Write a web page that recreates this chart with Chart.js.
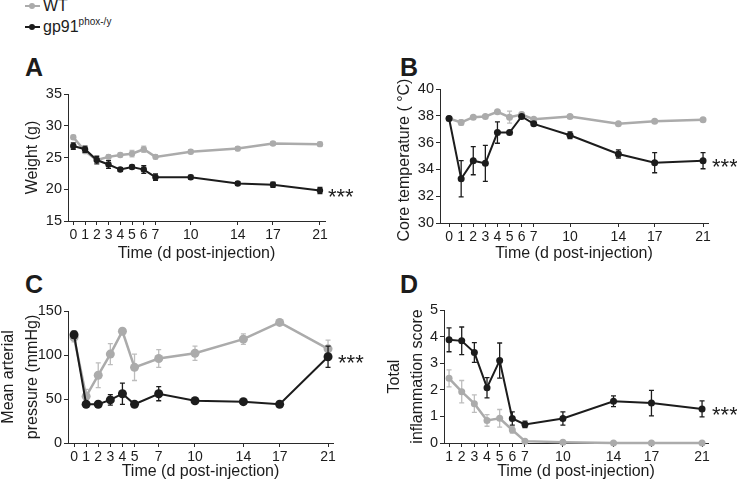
<!DOCTYPE html>
<html>
<head>
<meta charset="utf-8">
<script src="https://cdn.jsdelivr.net/npm/chart.js@4"></script>
<style>
  body { margin: 0; background: #fff; width: 737px; height: 485px; position: relative; overflow: hidden;
         font-family: "Liberation Sans", Arial, sans-serif; color: #1c1c1c; }
  canvas { position: absolute; }
  .letter { position: absolute; font-weight: bold; font-size: 25px; line-height: 25px; }
  .leg { position: absolute; left: 25px; font-size: 16px; line-height: 16px; white-space: nowrap; }
  .leg .mk { position: absolute; left: 0; top: 7px; width: 15px; height: 2px; }
  .leg .dot { position: absolute; left: 4px; top: -2px; width: 6px; height: 6px; border-radius: 50%; }
  .leg .txt { position: absolute; left: 18px; top: 0; }
  .leg sup { font-size: 10px; vertical-align: 7px; line-height: 0; }
</style>
</head>
<body>
<div class="leg" style="top:-2px"><span class="mk" style="background:#ababab"><span class="dot" style="background:#ababab"></span></span><span class="txt">WT</span></div>
<div class="leg" style="top:19px"><span class="mk" style="background:#1c1c1c"><span class="dot" style="background:#1c1c1c"></span></span><span class="txt">gp91<sup>phox-/y</sup></span></div>

<div class="letter" style="left:25px;top:55px">A</div>
<div class="letter" style="left:400px;top:55px">B</div>
<div class="letter" style="left:25px;top:272px">C</div>
<div class="letter" style="left:400px;top:272px">D</div>

<canvas id="chartA" width="370" height="185" style="left:0;top:80px"></canvas>
<canvas id="chartB" width="367" height="205" style="left:370px;top:60px"></canvas>
<canvas id="chartC" width="370" height="190" style="left:0;top:295px"></canvas>
<canvas id="chartD" width="367" height="190" style="left:370px;top:295px"></canvas>

<script>
/* ─── Data ───────────────────────────────────────────── */
// A: body weight (g)
const daysA = [0, 1, 2, 3, 4, 5, 6, 7, 10, 14, 17, 21];
const wtWeight    = [28.2, 26.0, 24.6, 25.1, 25.4, 25.6, 26.3, 25.1, 25.9, 26.4, 27.2, 27.1];
const wtWeightErr = [0.3, 0.3, 0.3, 0.3, 0.3, 0.5, 0.5, 0.3, 0.3, 0.3, 0.3, 0.3];
const koWeight    = [26.8, 26.3, 24.6, 23.9, 23.1, 23.5, 23.1, 21.9, 21.9, 20.9, 20.7, 19.8];
const koWeightErr = [0.5, 0.5, 0.6, 0.6, 0.3, 0.3, 0.6, 0.5, 0.3, 0.3, 0.4, 0.5];

// B: core temperature (°C)
const daysB = [0, 1, 2, 3, 4, 5, 6, 7, 10, 14, 17, 21];
const wtTemp    = [37.8, 37.5, 37.9, 37.95, 38.3, 37.9, 38.1, 37.75, 37.95, 37.4, 37.6, 37.7];
const wtTempErr = [0.1, 0.2, 0.1, 0.1, 0.1, 0.45, 0.15, 0.1, 0.1, 0.1, 0.1, 0.1];
const koTemp    = [37.8, 33.3, 34.65, 34.45, 36.75, 36.75, 37.95, 37.4, 36.55, 35.15, 34.5, 34.65];
const koTempErr = [0.1, 1.35, 1.05, 1.35, 0.8, 0.1, 0.1, 0.1, 0.25, 0.3, 0.75, 0.6];

// C: mean arterial pressure (mmHg)
const daysC = [0, 1, 2, 3, 4, 5, 7, 10, 14, 17, 21];
const wtMap    = [120, 53, 77, 101, 127, 86, 96, 102, 118, 137, 107];
const wtMapErr = [5, 8, 14, 12, 2, 15, 10, 8, 6, 3, 10];
const koMap    = [123, 44, 44, 49, 56, 44, 56, 48, 47, 44, 98];
const koMapErr = [4, 2, 2, 6, 12, 2, 8, 3, 2, 2, 12];

// D: total inflammation score
const daysD = [1, 2, 3, 4, 5, 6, 7, 10, 14, 17, 21];
const wtScore    = [2.43, 1.93, 1.48, 0.85, 0.93, 0.49, 0.07, 0.03, 0, 0, 0];
const wtScoreErr = [0.32, 0.42, 0.33, 0.22, 0.33, 0.12, 0.03, 0.02, 0, 0, 0];
const koScore    = [3.88, 3.84, 3.4, 2.08, 3.1, 0.92, 0.7, 0.92, 1.57, 1.5, 1.28];
const koScoreErr = [0.45, 0.52, 0.37, 0.38, 0.66, 0.25, 0.12, 0.25, 0.2, 0.48, 0.3];

const SIG = '***';

/* ─── Style ──────────────────────────────────────────── */
const GREY = '#ababab';
const GREY_ERR = '#bdbdbd';
const BLACK = '#1c1c1c';
const AXIS = '#2a2a2a';
const FONT = '"Liberation Sans", Arial, sans-serif';

Chart.defaults.font.family = FONT;
Chart.defaults.color = '#1c1c1c';

// vertical SEM bars, drawn under each dataset's line
const errorBars = {
  id: 'errorBars',
  beforeDatasetDraw(chart, args) {
    const ds = chart.data.datasets[args.index];
    if (!ds.errors) return;
    const ctx = chart.ctx;
    const y = chart.scales.y;
    ctx.save();
    ctx.strokeStyle = ds.errorColor;
    ctx.lineWidth = 1.3;
    args.meta.data.forEach((pt, i) => {
      const e = ds.errors[i];
      if (!e) return;
      const v = ds.data[i].y;
      const top = y.getPixelForValue(v + e);
      const bot = y.getPixelForValue(v - e);
      ctx.beginPath();
      ctx.moveTo(pt.x, top); ctx.lineTo(pt.x, bot);
      ctx.moveTo(pt.x - 2.5, top); ctx.lineTo(pt.x + 2.5, top);
      ctx.moveTo(pt.x - 2.5, bot); ctx.lineTo(pt.x + 2.5, bot);
      ctx.stroke();
    });
    ctx.restore();
  },
};

// significance stars next to the last knockout point
const stars = {
  id: 'stars',
  afterDatasetsDraw(chart, args, opts) {
    const meta = chart.getDatasetMeta(0);
    const last = meta.data[meta.data.length - 1];
    const ctx = chart.ctx;
    ctx.save();
    ctx.fillStyle = BLACK;
    ctx.font = '22px ' + FONT;
    ctx.textBaseline = 'alphabetic';
    ctx.fillText(SIG, last.x + opts.dx, last.y + 13);
    ctx.restore();
  },
};

// y title longer than the plot height (the built-in one gets squeezed to fit)
const longYTitle = {
  id: 'longYTitle',
  afterDraw(chart, args, opts) {
    if (!opts.text) return;
    const ctx = chart.ctx;
    const area = chart.chartArea;
    ctx.save();
    ctx.translate(opts.x, (area.top + area.bottom) / 2 + opts.dy);
    ctx.rotate(-Math.PI / 2);
    ctx.fillStyle = '#1c1c1c';
    ctx.font = '16px ' + FONT;
    ctx.textAlign = 'center';
    ctx.textBaseline = 'middle';
    ctx.fillText(opts.text, 0, 0);
    ctx.restore();
  },
};

const pairs = (xs, ys) => xs.map((x, i) => ({ x, y: ys[i] }));

function panel(id, p) {
  return new Chart(document.getElementById(id), {
    type: 'line',
    data: {
      datasets: [
        {
          label: 'gp91phox-/y',
          data: pairs(p.days, p.ko),
          errors: p.koErr,
          errorColor: BLACK,
          borderColor: BLACK,
          backgroundColor: BLACK,
          borderWidth: 2,
          pointRadius: p.r,
          pointBorderWidth: 0,
          order: 0,
          clip: false,
        },
        {
          label: 'WT',
          data: pairs(p.days, p.wt),
          errors: p.wtErr,
          errorColor: GREY_ERR,
          borderColor: GREY,
          backgroundColor: GREY,
          borderWidth: 2.5,
          pointRadius: p.r,
          pointBorderWidth: 0,
          order: 1,
          clip: false,
        },
      ],
    },
    options: {
      responsive: false,
      animation: false,
      events: [],
      layout: { padding: { left: 0, top: p.padTop, right: p.padRight, bottom: 0 } },
      plugins: {
        legend: { display: false },
        tooltip: { enabled: false },
        stars: { dx: p.starDx },
        longYTitle: p.longTitle || {},
      },
      scales: {
        x: {
          type: 'linear',
          min: p.xMin, max: p.xMax,
          afterBuildTicks: s => { s.ticks = p.days.map(v => ({ value: v })); },
          afterFit: s => { s.height = p.xH; },
          ticks: { autoSkip: false, maxRotation: 0, color: '#1c1c1c', font: { size: 14 }, padding: 2, callback: v => String(v) },
          grid: { drawOnChartArea: false, tickLength: 4, color: AXIS },
          border: { color: AXIS, width: 1 },
          title: { display: true, text: 'Time (d post-injection)', color: '#1c1c1c', font: { size: 16 }, padding: { top: 0, bottom: p.xTitlePad } },
        },
        y: {
          min: p.yMin, max: p.yMax,
          afterFit: s => { s.width = p.yW; },
          ticks: { stepSize: p.step, color: '#1c1c1c', font: { size: 14.5 }, padding: 2 },
          grid: { drawOnChartArea: false, tickLength: 4, color: AXIS },
          border: { color: AXIS, width: 1 },
          title: { display: !!p.yTitle, text: p.yTitle, color: '#1c1c1c', font: { size: 16, lineHeight: p.yLH }, padding: { top: p.yTitlePad, bottom: 0 } },
        },
      },
    },
    plugins: [errorBars, stars, longYTitle],
  });
}

/* ─── Panels ─────────────────────────────────────────── */
panel('chartA', {
  days: daysA, wt: wtWeight, wtErr: wtWeightErr, ko: koWeight, koErr: koWeightErr,
  xMin: -0.45, xMax: 21.43, yMin: 15, yMax: 35, step: 5, r: 3.2,
  padTop: 14, padRight: 45, xH: 44, yW: 68,
  yTitle: 'Weight (g)', yLH: 1.2, yTitlePad: 23.4, xTitlePad: 1.9, starDx: 8,
});

panel('chartB', {
  days: daysB, wt: wtTemp, wtErr: wtTempErr, ko: koTemp, koErr: koTempErr,
  xMin: -0.75, xMax: 21.41, yMin: 30, yMax: 40, step: 2, r: 3.5,
  padTop: 29, padRight: 29, xH: 42, yW: 70,
  yTitle: null, longTitle: { text: 'Core temperature ( °C)', x: 35, dy: 4 },
  xTitlePad: 1.9, starDx: 9,
});

panel('chartC', {
  days: daysC, wt: wtMap, wtErr: wtMapErr, ko: koMap, koErr: koMapErr,
  xMin: -0.5, xMax: 21.41, yMin: 0, yMax: 150, step: 50, r: 4.5,
  padTop: 16, padRight: 37, xH: 42, yW: 68,
  yTitle: ['Mean arterial', 'pressure (mmHg)'], yLH: 1.5, yTitlePad: -3.5, xTitlePad: 3.5, starDx: 10,
});

panel('chartD', {
  days: daysD, wt: wtScore, wtErr: wtScoreErr, ko: koScore, koErr: koScoreErr,
  xMin: 0.6, xMax: 21.47, yMin: 0, yMax: 5, step: 1, r: 3.5,
  padTop: 15, padRight: 29, xH: 42, yW: 74,
  yTitle: ['Total', 'inflammation score'], yLH: 1.4, yTitlePad: 13.8, xTitlePad: 3.5, starDx: 10,
});
</script>
</body>
</html>
